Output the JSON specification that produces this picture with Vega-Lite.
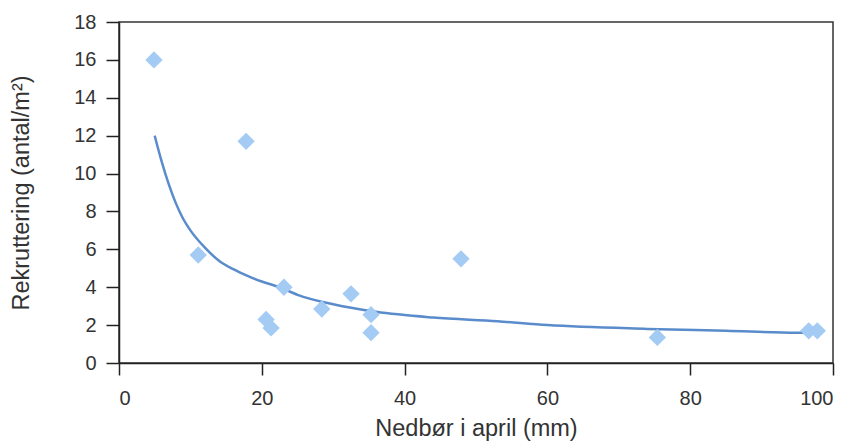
{
  "$schema": "https://vega.github.io/schema/vega-lite/v6.json",
  "width": 714,
  "height": 341,
  "autosize": {"type": "none"},
  "padding": {"left": 119, "top": 22, "right": 24, "bottom": 78},
  "background": "white",
  "config": {
    "font": "Liberation Sans",
    "view": {"stroke": "#333333", "strokeWidth": 1.5},
    "axis": {
      "grid": false,
      "domainColor": "#222222",
      "domainWidth": 1.5,
      "tickColor": "#222222",
      "tickWidth": 1.5,
      "labelColor": "#333333",
      "titleColor": "#333333",
      "labelFontSize": 20,
      "titleFontSize": 23.5,
      "titleFontWeight": "normal",
      "labelFont": "Liberation Sans",
      "titleFont": "Liberation Sans",
      "labelOverlap": false
    }
  },
  "datasets": {
    "points": [
      {"x": 4.9, "y": 16.0},
      {"x": 17.8, "y": 11.7},
      {"x": 11.1, "y": 5.7},
      {"x": 23.1, "y": 4.0},
      {"x": 20.6, "y": 2.3},
      {"x": 21.3, "y": 1.85},
      {"x": 28.4, "y": 2.85},
      {"x": 32.5, "y": 3.65},
      {"x": 35.3, "y": 2.55},
      {"x": 35.3, "y": 1.6},
      {"x": 47.9, "y": 5.5},
      {"x": 75.4, "y": 1.35},
      {"x": 96.6, "y": 1.7},
      {"x": 97.8, "y": 1.7}
    ],
    "curve": [
      {"x": 5, "y": 12.0},
      {"x": 6, "y": 10.6},
      {"x": 7, "y": 9.4},
      {"x": 8, "y": 8.4},
      {"x": 9, "y": 7.6},
      {"x": 10, "y": 7.0},
      {"x": 12, "y": 6.1},
      {"x": 14, "y": 5.4},
      {"x": 16, "y": 4.95},
      {"x": 18, "y": 4.6},
      {"x": 20, "y": 4.3},
      {"x": 22.5, "y": 4.0},
      {"x": 25, "y": 3.6},
      {"x": 30, "y": 3.1},
      {"x": 36, "y": 2.7},
      {"x": 44, "y": 2.4},
      {"x": 53, "y": 2.2},
      {"x": 60, "y": 2.0},
      {"x": 74, "y": 1.8},
      {"x": 85, "y": 1.7},
      {"x": 95, "y": 1.6},
      {"x": 97, "y": 1.6}
    ]
  },
  "encoding": {
    "x": {
      "field": "x", "type": "quantitative",
      "scale": {"domain": [0, 100], "nice": false},
      "axis": {"values": [0, 20, 40, 60, 80, 100], "tickSize": 12, "labelPadding": 13, "titlePadding": 8, "title": "Nedbør i april (mm)"}
    },
    "y": {
      "field": "y", "type": "quantitative",
      "scale": {"domain": [0, 18], "nice": false},
      "axis": {"values": [0, 2, 4, 6, 8, 10, 12, 14, 16, 18], "tickCount": 10, "tickSize": 13, "labelPadding": 10, "titlePadding": 40, "title": "Rekruttering (antal/m²)"}
    }
  },
  "layer": [
    {
      "data": {"name": "curve"},
      "mark": {"type": "line", "color": "#5a8ccc", "strokeWidth": 2.5, "interpolate": "monotone"}
    },
    {
      "data": {"name": "points"},
      "mark": {"type": "point", "shape": "diamond", "filled": true, "size": 300, "color": "#a3cbf3", "opacity": 1}
    }
  ]
}
